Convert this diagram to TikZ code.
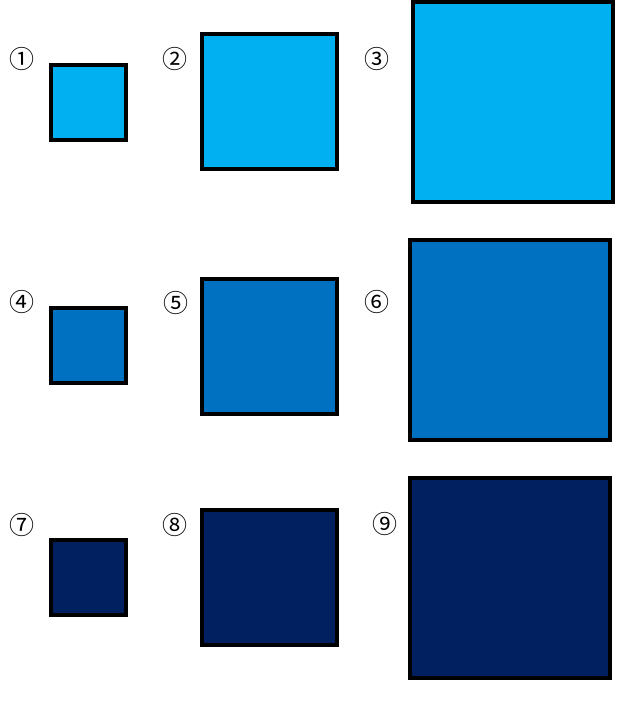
\documentclass[tikz,border=0pt]{standalone}
\usepackage{fontspec}
\newfontfamily\symfont{Noto Sans CJK KR}
\definecolor{lightblue}{HTML}{00B0F0}
\definecolor{midblue}{HTML}{0070C0}
\definecolor{darkblue}{HTML}{002060}
\begin{document}
\begin{tikzpicture}[x=1pt,y=-1pt, every node/.style={font=\symfont\fontsize{25}{25}\selectfont},
  mybox/.style={draw=black,line width=4pt,inner sep=0pt,outer sep=0pt},
  small/.style={mybox,minimum size=75pt}, mid/.style={mybox,minimum size=135pt}, big/.style={mybox,minimum size=200pt}]
\useasboundingbox (0,0) rectangle (640,712);
% row 1
\node[small,fill=lightblue] (s1) at (88.5,102.3) {};
\node[mid,fill=lightblue] (s2) at (269.5,101.5) {};
\node[big,fill=lightblue] (s3) at (513,102) {};
\node (n1) at (22,59) {①}; \node (n2) at (175,59) {②}; \node (n3) at (377,59) {③};
% row 2
\node[small,fill=midblue] (s4) at (88.5,345.5) {};
\node[mid,fill=midblue] (s5) at (269.3,346) {};
\node[big,fill=midblue] (s6) at (509.5,339.5) {};
\node (n4) at (22,302) {④}; \node (n5) at (175.5,303) {⑤}; \node (n6) at (377,302) {⑥};
% row 3
\node[small,fill=darkblue] (s7) at (88.5,577) {};
\node[mid,fill=darkblue] (s8) at (269,577) {};
\node[big,fill=darkblue] (s9) at (510,578) {};
\node (n7) at (22,525) {⑦}; \node (n8) at (175,525) {⑧}; \node (n9) at (385,524) {⑨};
\end{tikzpicture}
\end{document}
